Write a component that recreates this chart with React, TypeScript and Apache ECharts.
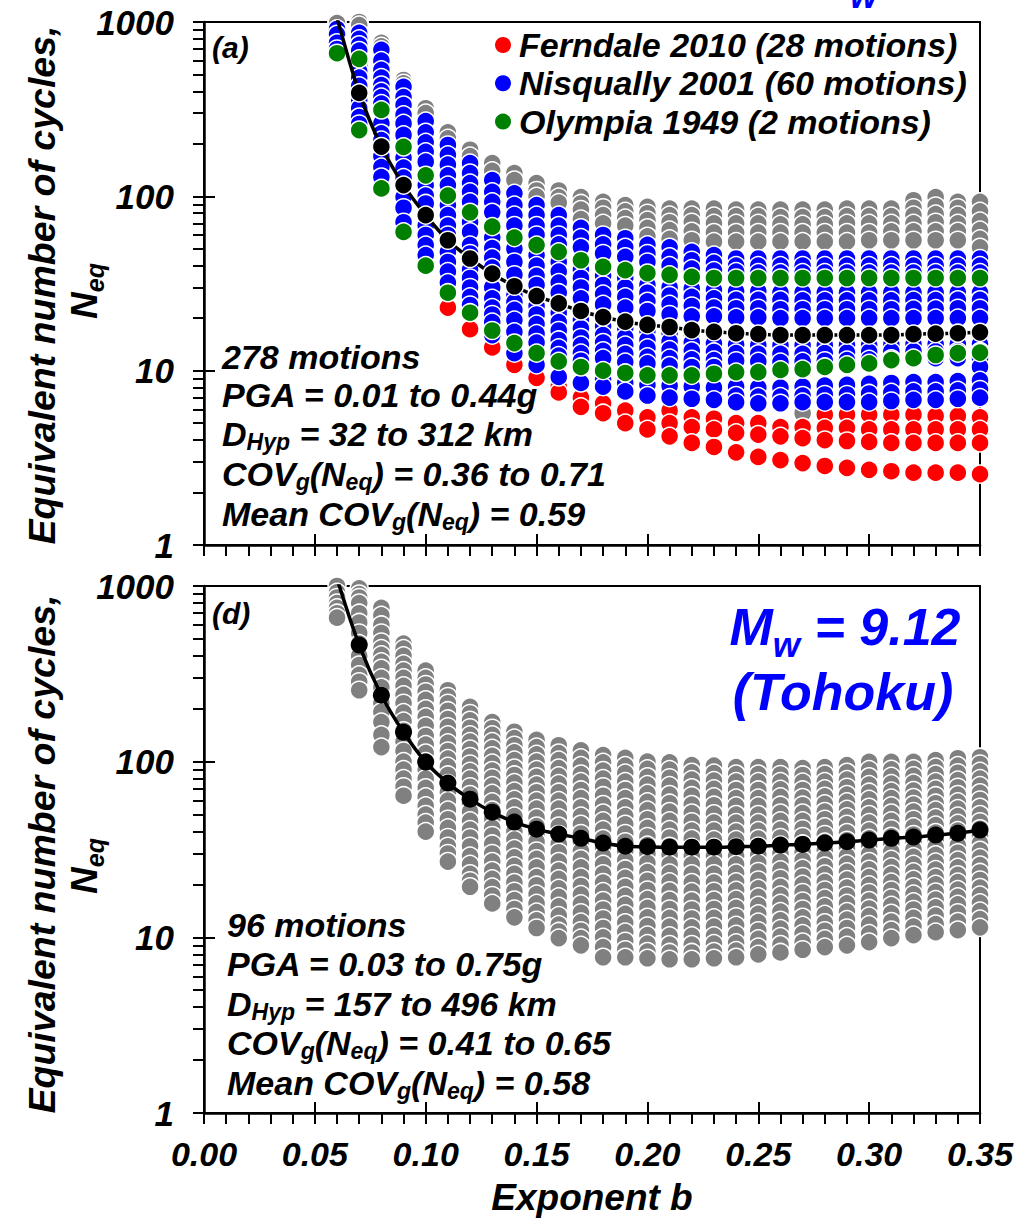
import React, { useEffect, useRef } from 'react';
import * as echarts from 'echarts';

const FONT = '"Liberation Sans", Arial, Helvetica, sans-serif';

// Exponent b values (one column of dots per value)
const bValues = [0.06, 0.07, 0.08, 0.09, 0.10, 0.11, 0.12, 0.13, 0.14, 0.15, 0.16, 0.17, 0.18, 0.19, 0.20,
  0.21, 0.22, 0.23, 0.24, 0.25, 0.26, 0.27, 0.28, 0.29, 0.30, 0.31, 0.32, 0.33, 0.34, 0.35];

const yMajorTicks = [1, 10, 100, 1000];
const yAllTicks = [1, 2, 3, 4, 5, 6, 7, 8, 9, 10, 20, 30, 40, 50, 60, 70, 80, 90, 100, 200, 300, 400, 500, 600, 700, 800, 900, 1000];

// ---------- Panel (a): 278 motions ----------
const grayA: number[][] = [
  [1000, 985], [1000, 960], [760, 725], [465, 445], [320, 300], [233, 215], [185, 170], [155, 140],
  [136, 124], [119, 108, 100], [108, 99, 92], [99, 91, 84, 74], [93, 86, 78, 70], [89, 82, 75, 68],
  [87, 80, 73, 66, 59], [85, 78, 71, 64, 57], [85, 78, 71, 63, 56], [85, 77, 70, 62, 55],
  [84, 77, 70, 62, 55], [84, 77, 70, 62, 55], [84, 76, 69, 62, 55], [84, 76, 69, 62, 55, 5.7],
  [84, 76, 69, 62, 55, 5.7], [85, 77, 70, 62, 55, 5.8], [85, 77, 70, 62, 56, 5.9], [85, 77, 70, 63, 56, 5.9],
  [95, 86, 78, 70, 63, 56], [99, 88, 79, 71, 63, 56], [93, 86, 78, 70, 63, 56], [93, 82, 72, 64, 57, 51],
];

const redA: number[][] = [
  [], [], [], [], [], [23], [17.3], [13.6], [10.8], [9.1], [8.1, 7.5], [7.0, 6.2], [6.5, 5.7], [5.9, 5.0],
  [5.4, 4.6], [5.9, 5.0, 4.2], [5.4, 4.75, 3.85], [5.3, 4.6, 3.65], [5.0, 4.4, 3.4], [5.0, 4.3, 3.2],
  [4.75, 4.2, 3.07], [4.75, 4.1, 2.95], [5.6, 4.7, 4.0, 2.84], [5.6, 4.7, 3.95, 2.77], [5.6, 4.6, 3.9, 2.7],
  [5.6, 4.6, 3.85, 2.65], [5.6, 4.6, 3.85, 2.6], [5.5, 4.6, 3.85, 2.6], [5.5, 4.6, 3.85, 2.6], [5.4, 4.6, 3.85, 2.55],
];

const blueA: number[][] = [
  [912, 850, 760, 700],
  [866, 800, 740, 686, 560, 520, 480, 430, 357, 320, 285, 260],
  [692, 600, 531, 480, 435, 400, 371, 340, 262, 230, 210, 170, 147, 129],
  [425, 371, 334, 293, 262, 225, 166, 146, 128, 99, 86, 71],
  [270, 233, 204, 180, 158, 116, 101, 91, 68, 60, 52.5, 46],
  [197, 173, 152, 132, 116, 89, 78, 68, 60, 48, 42, 37, 32],
  [155, 136, 119, 106, 93, 71, 62.5, 52.5, 47, 38, 34, 30, 26.5, 23.8],
  [124, 106, 93, 81, 58, 50.5, 44.5, 39, 30, 26, 23, 21, 19, 16],
  [104, 89, 78, 68, 50, 42, 35.5, 27, 24.7, 22.3, 19.5, 16.7, 12.6],
  [89, 78, 68, 60, 46, 40, 35, 31, 23.5, 21, 18.5, 16.3, 14.5, 10.8],
  [78, 68, 60, 53, 42, 37, 32, 28, 21.5, 19, 17, 15, 13.5, 12.2, 9.2],
  [66, 58, 51, 38, 34, 30, 26, 19.5, 17.5, 15.5, 14, 12.6, 11.4, 8.5],
  [60, 53, 47, 35, 31, 27.5, 24, 18, 16, 14.5, 13, 11.8, 8.9, 8.1],
  [57.5, 51, 45, 34, 30, 26.5, 23, 17.5, 15.5, 14, 12.5, 11.2, 8.5, 7.6],
  [52.7, 47, 42, 31, 28, 25, 22, 17, 15, 13.5, 12, 11, 8.3, 7.2],
  [51, 45, 40, 30, 27, 24, 21, 16.5, 14.7, 13.2, 11.8, 10.7, 8.2, 7.0],
  [48, 43, 38.5, 29.5, 26.5, 23.5, 20.5, 16.2, 14.5, 13, 11.6, 10.5, 8.1, 6.9],
  [46, 41.5, 37.5, 29, 26, 23, 20.5, 16, 14.3, 12.8, 11.5, 10.5, 8.0, 6.8],
  [44, 40, 37, 28.5, 25.5, 22.8, 20.2, 15.8, 14.1, 12.6, 11.4, 8.1, 7.2, 6.6],
  [44, 40, 36.5, 28.5, 25.5, 22.8, 20.2, 15.8, 14, 12.5, 11.3, 8.0, 7.1, 6.5],
  [44, 40, 36.5, 28, 25.5, 22.5, 20, 15.5, 14, 12.5, 11.2, 8.0, 7.1, 6.5],
  [44, 40, 36.5, 28, 25.3, 22.5, 20, 15.5, 14, 12.5, 11.3, 8.1, 7.2, 6.6],
  [44, 40, 36.5, 28, 25.3, 22.5, 20, 15.5, 14, 12.6, 11.4, 8.2, 7.3, 6.6],
  [44, 40, 36.5, 28, 25.3, 22.5, 20, 15.6, 14, 12.7, 11.5, 8.3, 7.3, 6.6],
  [44, 40, 36.5, 28, 25.3, 22.5, 20, 15.6, 14, 12.8, 11.6, 8.4, 7.4, 6.6],
  [44, 40, 36.5, 28, 25.3, 22.5, 20, 15.6, 14.1, 12.9, 11.7, 8.5, 7.5, 6.7],
  [44, 40, 36.5, 28, 25.4, 22.6, 20, 15.7, 14.2, 12.9, 11.7, 8.6, 7.6, 6.8],
  [44, 40, 36.5, 28, 25.4, 22.7, 20, 15.7, 14.2, 12.9, 11.8, 8.6, 7.6, 6.8],
  [44, 40, 36.5, 28, 25.5, 22.8, 20, 15.7, 14.2, 12.9, 11.8, 8.7, 7.7, 6.9],
  [44, 40, 36.5, 28, 25.5, 22.8, 20, 15.7, 14.2, 12.9, 11.8, 10.5, 8.8, 7.8, 7.0],
];

const greenA: number[][] = [
  [662], [614, 240], [313, 111], [192, 62.5], [132, 40], [101, 28], [81, 21.5], [67, 17], [58, 14.4],
  [52.5, 12.6], [48, 11.3], [43, 10.5], [39.4, 10.0], [37.7, 9.7], [36.3, 9.4], [35.4, 9.4], [34.5, 9.4],
  [34, 9.6], [34, 9.8], [34, 9.8], [34, 10.1], [34, 10.2], [34, 10.5], [34, 10.8], [34, 11.0], [34, 11.5],
  [34, 11.8], [34, 12.3], [34, 12.6], [34, 12.7],
];

const meanA = [1060, 392, 193, 116, 78, 56, 44, 36, 30.5, 26.8, 24.3, 22, 20.3, 19.1, 18.3, 17.8, 17.1, 16.7,
  16.4, 16.2, 16.0, 16.0, 16.0, 16.0, 16.0, 16.0, 16.2, 16.3, 16.4, 16.6];

// ---------- Panel (d): Tohoku, 96 motions ----------
const grayD: number[][] = [
  [1000, 920, 860, 800, 750, 700, 660],
  [970, 900, 860, 800, 700, 620, 540, 470, 400, 355, 312, 285, 255],
  [750, 680, 600, 540, 480, 440, 405, 370, 340, 300, 265, 235, 215, 192, 168, 142, 121],
  [470, 440, 400, 360, 330, 300, 270, 240, 215, 190, 170, 150, 130, 115, 100, 90, 80, 72, 64],
  [330, 300, 275, 250, 225, 200, 180, 160, 140, 125, 112, 100, 90, 80, 71, 63, 56, 50, 45, 40],
  [255, 235, 215, 195, 175, 158, 142, 128, 115, 104, 94, 84, 75, 67, 60, 53, 47, 42, 37, 33, 30, 27],
  [205, 188, 172, 156, 142, 130, 118, 107, 97, 88, 80, 72, 65, 58, 52, 46, 41, 37, 33, 29, 26, 23, 21, 19.4],
  [168, 155, 142, 130, 119, 108, 98, 89, 81, 73, 66, 59, 53, 47, 42, 38, 34, 30, 27, 24, 21.5, 19.3, 17.3, 15.6],
  [148, 136, 124, 113, 102, 92, 84, 76, 68, 61, 55, 49, 44, 40, 36, 32, 28.5, 25.5, 23, 20.5, 18.3, 16.3, 14.5, 13],
  [133, 121, 110, 100, 90, 82, 74, 67, 60, 54, 48, 43, 39, 35, 31, 28, 25, 22, 19.8, 17.6, 15.6, 13.9, 12.5, 11.3],
  [124, 112, 102, 92, 83, 75, 67, 60, 54, 48, 43, 38.5, 34, 30.5, 27, 24, 21.5, 19, 17, 15, 13.3, 11.8, 10.8, 9.9],
  [116, 105, 95, 85, 77, 69, 62, 55, 49, 44, 39, 35, 31, 28, 25, 22, 19.6, 17.5, 15.5, 13.8, 12.2, 10.9, 9.9, 9.0],
  [109, 99, 89, 80, 72, 64, 57, 51, 46, 41, 36.5, 32.5, 29, 26, 23, 20.5, 18.2, 16.2, 14.4, 12.8, 11.3, 10, 8.8, 7.7],
  [105, 95, 86, 77, 69, 62, 55, 49, 44, 39, 35, 31, 27.5, 24.5, 21.8, 19.4, 17.2, 15.3, 13.6, 12.1, 10.7, 9.5, 8.5, 7.7],
  [100, 91, 82, 74, 66, 59, 53, 47, 42, 37.5, 33.5, 30, 26.5, 23.5, 21, 18.6, 16.5, 14.7, 13, 11.6, 10.3, 9.2, 8.3, 7.6],
  [99, 90, 81, 73, 65, 58, 52, 46, 41, 37, 33, 29.5, 26, 23.2, 20.7, 18.4, 16.3, 14.5, 12.9, 11.5, 10.2, 9.1, 8.2, 7.5],
  [95.5, 87, 79, 71, 64, 57, 51, 45.5, 40.5, 36.5, 32.5, 29, 26, 23, 20.5, 18.2, 16.2, 14.4, 12.8, 11.4, 10.2, 9.1, 8.2, 7.5],
  [95, 86, 78, 70, 63, 56.5, 50.5, 45, 40.5, 36, 32.5, 29, 26, 23, 20.5, 18.3, 16.3, 14.5, 12.9, 11.5, 10.2, 9.2, 8.3, 7.6],
  [93, 85, 77, 69, 62, 56, 50, 45, 40, 36, 32.5, 29, 26, 23.2, 20.7, 18.5, 16.5, 14.7, 13.1, 11.7, 10.4, 9.3, 8.4, 7.7],
  [93, 85, 77, 69, 62, 56, 50, 45, 40.5, 36.5, 33, 29.5, 26.5, 23.7, 21.2, 19, 17, 15.2, 13.6, 12.2, 10.9, 9.8, 8.8, 8.0],
  [93, 84.5, 77, 69.5, 63, 56.5, 51, 46, 41, 37, 33.5, 30, 27, 24.2, 21.7, 19.4, 17.4, 15.6, 14, 12.5, 11.2, 10.1, 9.1, 8.2],
  [92, 84, 76.5, 69, 62.5, 56.5, 51, 46, 41.5, 37.5, 34, 30.5, 27.5, 24.7, 22.2, 20, 18, 16.1, 14.5, 13, 11.7, 10.5, 9.4, 8.5],
  [93, 85, 77, 70, 63.5, 57.5, 52, 47, 42.5, 38.5, 34.8, 31.3, 28.2, 25.4, 22.9, 20.6, 18.6, 16.7, 15, 13.5, 12.1, 10.9, 9.8, 8.8],
  [95.5, 87, 79, 71.5, 65, 59, 53.5, 48.5, 44, 39.5, 35.7, 32.2, 29, 26.2, 23.6, 21.3, 19.2, 17.3, 15.6, 14, 12.6, 11.3, 10.1, 9.0],
  [99.8, 90, 82, 74, 67, 61, 55, 50, 45, 40.5, 36.6, 33, 29.8, 27, 24.4, 22, 19.9, 18, 16.2, 14.6, 13.2, 11.8, 10.5, 9.4],
  [99.8, 90.5, 82.5, 75, 68, 62, 56, 51, 46, 41.5, 37.6, 34, 30.7, 27.8, 25.2, 22.8, 20.6, 18.6, 16.8, 15.2, 13.7, 12.3, 11, 9.9],
  [99.8, 91, 83, 75.5, 68.5, 62.5, 57, 52, 47, 42.5, 38.5, 35, 31.7, 28.7, 26, 23.6, 21.4, 19.4, 17.6, 15.9, 14.4, 12.9, 11.5, 10.3],
  [102, 93, 85, 77, 70, 64, 58, 53, 48, 43.5, 39.5, 35.8, 32.5, 29.5, 26.8, 24.3, 22, 20, 18.1, 16.4, 14.8, 13.3, 11.9, 10.7],
  [104.6, 95, 86.5, 78.5, 71.5, 65, 59, 54, 49, 44.5, 40.5, 36.8, 33.4, 30.3, 27.5, 25, 22.7, 20.6, 18.7, 17, 15.4, 13.8, 12.3, 11.0],
  [106, 97, 88, 80, 73, 66.5, 60.5, 55, 50, 45.5, 41.5, 37.8, 34.4, 31.3, 28.4, 25.8, 23.4, 21.2, 19.2, 17.4, 15.7, 14.1, 12.7, 11.4],
];

const meanD = [1100, 461, 239, 147, 99.5, 75.5, 61.2, 51.6, 45.3, 41.3, 38.7, 36.6, 34.4, 33.0, 32.8, 32.6, 32.6,
  32.6, 32.8, 33.0, 33.5, 33.8, 34.4, 35.0, 35.8, 36.6, 37.2, 38.2, 39.1, 40.8];

const legendItems = ['Ferndale 2010 (28 motions)', 'Nisqually 2001 (60 motions)', 'Olympia 1949 (2 motions)'];
const legendColors = ['#FF0000', '#0000FF', '#008000'];

// annotation lines: [text, isSubscript] tokens
type Tok = [string, boolean];
const annotationA: Tok[][] = [
  [['278 motions', false]],
  [['PGA = 0.01 to 0.44g', false]],
  [['D', false], ['Hyp', true], [' = 32 to 312 km', false]],
  [['COV', false], ['g', true], ['(N', false], ['eq', true], [') = 0.36 to 0.71', false]],
  [['Mean COV', false], ['g', true], ['(N', false], ['eq', true], [') = 0.59', false]],
];
const annotationD: Tok[][] = [
  [['96 motions', false]],
  [['PGA = 0.03 to 0.75g', false]],
  [['D', false], ['Hyp', true], [' = 157 to 496 km', false]],
  [['COV', false], ['g', true], ['(N', false], ['eq', true], [') = 0.41 to 0.65', false]],
  [['Mean COV', false], ['g', true], ['(N', false], ['eq', true], [') = 0.58', false]],
];

function toPoints(cols: number[][]) {
  const pts: number[][] = [];
  cols.forEach((vals, i) => vals.forEach((v) => pts.push([bValues[i], v])));
  return pts;
}

const tickStyle = { color: '#000', width: 2 };
const labelFont = { fontFamily: FONT, fontWeight: 'bold' as const, fontStyle: 'italic' as const, color: '#000' };

function xAxesFor(gridIndex: number, showLabels: boolean) {
  return [
    {
      type: 'value', gridIndex, min: 0, max: 0.35, interval: 0.05, position: 'bottom',
      axisLine: { show: true, onZero: false, lineStyle: { color: '#000', width: 2.5 } },
      axisTick: { show: true, inside: false, length: 11, lineStyle: tickStyle },
      minorTick: { show: true, splitNumber: 5, length: 11, lineStyle: tickStyle },
      splitLine: { show: false }, minorSplitLine: { show: false },
      axisLabel: { show: showLabels, fontSize: 34, margin: 24, ...labelFont, formatter: (v: number) => v.toFixed(2) },
    },
    {
      type: 'value', gridIndex, min: 0, max: 0.35, interval: 0.05, position: 'bottom',
      axisLine: { show: false, onZero: false },
      axisTick: { show: true, inside: true, length: 11, lineStyle: tickStyle },
      splitLine: { show: false }, axisLabel: { show: false },
    },
  ];
}

function yAxesFor(gridIndex: number) {
  return [
    {
      type: 'log', logBase: 10, gridIndex, min: 1, max: 1000, position: 'left',
      axisLine: { show: true, onZero: false, lineStyle: { color: '#000', width: 2.5 } },
      axisTick: { show: true, inside: false, length: 11, lineStyle: tickStyle, customValues: yAllTicks },
      splitLine: { show: false },
      axisLabel: { show: true, fontSize: 35, margin: 30, ...labelFont, customValues: yMajorTicks, formatter: (v: number) => String(Math.round(v)) },
    },
    {
      type: 'log', logBase: 10, gridIndex, min: 1, max: 1000, position: 'left',
      axisLine: { show: false, onZero: false },
      axisTick: { show: true, inside: true, length: 11, lineStyle: tickStyle, customValues: yMajorTicks },
      splitLine: { show: false }, axisLabel: { show: false },
    },
  ];
}

function scatter(xi: number, yi: number, cols: number[][], color: string, size: number) {
  return {
    type: 'scatter', xAxisIndex: xi, yAxisIndex: yi, data: toPoints(cols), symbol: 'circle', symbolSize: size,
    itemStyle: { color, borderColor: '#fff', borderWidth: 1.5, opacity: 1 }, clip: false, silent: true,
  };
}

// subPad: top padding of the subscript token, which lowers it by subPad / 2
function richText(x: number, y: number, text: string, size: number, subSize: number, subPad: number,
  color = '#000', align = 'left', rotation = 0) {
  return {
    type: 'text', x, y, rotation, silent: true, z: 100,
    style: {
      text, align, verticalAlign: 'middle',
      rich: {
        m: { fontFamily: FONT, fontSize: size, fontWeight: 'bold', fontStyle: 'italic', fill: color },
        s: { fontFamily: FONT, fontSize: subSize, fontWeight: 'bold', fontStyle: 'italic', fill: color, padding: [subPad, 0, 0, 0] },
      },
    },
  };
}

let measureCtx: CanvasRenderingContext2D | null = null;
function textWidth(s: string, size: number) {
  if (!measureCtx) measureCtx = document.createElement('canvas').getContext('2d');
  if (!measureCtx) return s.length * size * 0.55;
  measureCtx.font = `italic bold ${size}px ${FONT}`;
  return measureCtx.measureText(s).width;
}

// A line of text with subscripts, laid out token by token as separate text elements
function tokenLine(x: number, y: number, toks: Tok[], size: number, subSize: number, subDy: number) {
  const els: any[] = [];
  let cx = x;
  toks.forEach(([t, sub]) => {
    const fs = sub ? subSize : size;
    const lead = t.length - t.replace(/^\s+/, '').length;
    const body = t.trimStart();
    if (lead) cx += textWidth(t.slice(0, lead), fs);
    els.push({
      type: 'text', x: cx, y: sub ? y + subDy : y, silent: true, z: 100,
      style: {
        text: body, fontFamily: FONT, fontSize: fs, fontWeight: 'bold', fontStyle: 'italic', fill: '#000',
        align: 'left', verticalAlign: 'middle',
      },
    });
    cx += textWidth(body, fs);
  });
  return els;
}

function buildOption() {
  const graphic: any[] = [];
  // panel labels
  graphic.push(richText(212, 47, '{m|(a)}', 30, 18, 0));
  graphic.push(richText(212, 613, '{m|(d)}', 30, 18, 0));
  // clipped subscript of the panel title above
  graphic.push(richText(850, -5, '{m|w}', 35, 20, 0, '#0000FF'));
  // legend
  legendItems.forEach((name, i) => {
    const cy = 45 + i * 38.3;
    graphic.push({ type: 'circle', shape: { cx: 503, cy, r: 8 }, style: { fill: legendColors[i] }, silent: true, z: 100 });
    graphic.push(richText(519, cy, `{m|${name}}`, 34, 22, 0));
  });
  // annotations
  const annAy = [357, 395, 434, 474, 514];
  annotationA.forEach((toks, i) => graphic.push(...tokenLine(222, annAy[i], toks, 34, 23, 8)));
  const annDy = [925, 964, 1004, 1043, 1083];
  annotationD.forEach((toks, i) => graphic.push(...tokenLine(227, annDy[i], toks, 34, 23, 8)));
  // Mw label
  graphic.push(richText(845, 627, '{m|M}{s|w}{m| = 9.12}', 52, 35, 34, '#0000FF', 'center'));
  graphic.push(richText(843, 692, '{m|(Tohoku)}', 52, 35, 0, '#0000FF', 'center'));
  // y titles
  graphic.push(richText(42, 285, '{m|Equivalent number of cycles,}', 37.5, 24, 0, '#000', 'center', Math.PI / 2));
  graphic.push(richText(84, 291, '{m|N}{s|eq}', 37, 25, 22, '#000', 'center', Math.PI / 2));
  graphic.push(richText(42, 854, '{m|Equivalent number of cycles,}', 37.5, 24, 0, '#000', 'center', Math.PI / 2));
  graphic.push(richText(84, 866, '{m|N}{s|eq}', 37, 25, 22, '#000', 'center', Math.PI / 2));
  // x title
  graphic.push(richText(592, 1197, '{m|Exponent b}', 37, 20, 0, '#000', 'center'));

  return {
    animation: false,
    backgroundColor: '#fff',
    grid: [
      { left: 204, top: 22, width: 776, height: 523, show: true, borderColor: '#000', borderWidth: 2, containLabel: false },
      { left: 204, top: 586, width: 776, height: 527, show: true, borderColor: '#000', borderWidth: 2, containLabel: false },
    ],
    xAxis: [...xAxesFor(0, false), ...xAxesFor(1, true)],
    yAxis: [...yAxesFor(0), ...yAxesFor(1)],
    series: [
      scatter(0, 0, grayA, '#808080', 18),
      scatter(0, 0, redA, '#FF0000', 18),
      scatter(0, 0, blueA, '#0000FF', 18),
      scatter(0, 0, greenA, '#008000', 18),
      {
        type: 'line', xAxisIndex: 0, yAxisIndex: 0, data: meanA.map((v, i) => [bValues[i], v]),
        symbol: 'circle', symbolSize: 18, showSymbol: true, smooth: 0.3, clip: true, silent: true,
        itemStyle: { color: '#000', borderColor: '#fff', borderWidth: 1.5 },
        lineStyle: { color: '#000', width: 3.5 },
      },
      scatter(2, 2, grayD, '#808080', 18),
      {
        type: 'line', xAxisIndex: 2, yAxisIndex: 2, data: meanD.map((v, i) => [bValues[i], v]),
        symbol: 'circle', symbolSize: 17, showSymbol: true, smooth: 0.3, clip: true, silent: true,
        itemStyle: { color: '#000', borderWidth: 0 },
        lineStyle: { color: '#000', width: 3.5 },
      },
    ],
    graphic,
  };
}

export default function App() {
  const ref = useRef<HTMLDivElement>(null);
  useEffect(() => {
    document.body.style.margin = '0';
    const chart = echarts.init(ref.current as HTMLDivElement, null, { renderer: 'svg' });
    chart.setOption(buildOption() as any);
    return () => chart.dispose();
  }, []);
  return <div ref={ref} style={{ position: 'absolute', left: 0, top: 0, width: 1019, height: 1220, background: '#fff' }} />;
}
